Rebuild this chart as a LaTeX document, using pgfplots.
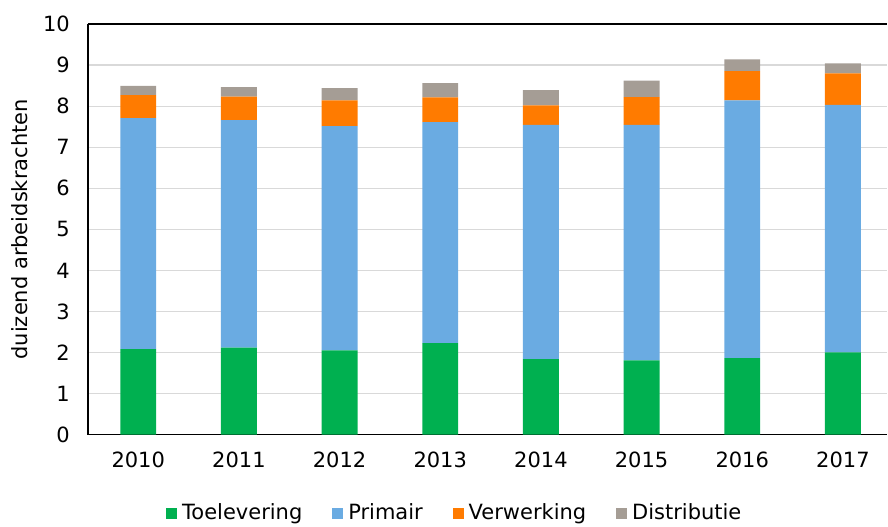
\documentclass[border=0pt]{standalone}
\usepackage{fontspec}
\setmainfont{DejaVu Sans}
\usepackage{pgfplots}
\pgfplotsset{compat=1.18}
\definecolor{cToe}{HTML}{00B050}
\definecolor{cPri}{HTML}{6AABE2}
\definecolor{cVer}{HTML}{FF7B00}
\definecolor{cDis}{HTML}{A59D95}
\definecolor{cGrid}{HTML}{D9D9D9}
\begin{document}
\fontsize{21bp}{24bp}\selectfont
\begin{tikzpicture}
\begin{axis}[
    scale only axis,
    width=800bp, height=411bp,
    ybar stacked,
    bar width=36bp,
    xmin=-0.5, xmax=7.44,
    ymin=0, ymax=10,
    ytick={0,1,...,10},
    xtick={0,...,7},
    xticklabels={2010,2011,2012,2013,2014,2015,2016,2017},
    axis x line=box, axis y line=left,
    axis line style={black, line width=1.6bp},
    x axis line style={-}, y axis line style={-},
    ymajorgrids, grid style={cGrid, line width=1.2bp},
    major tick length=0pt,
    /pgf/number format/assume math mode=true,
    yticklabel style={xshift=-11bp},
    xticklabel style={yshift=-10bp},
    ylabel={duizend arbeidskrachten},
    ylabel style={yshift=1bp},
    legend columns=4,
    legend style={draw=none, at={(0.459,-0.192)}, anchor=center,
        /tikz/every even column/.append style={column sep=28bp}},
    legend image code/.code={\fill[#1] (0bp,-5.5bp) rectangle (11bp,5.5bp); \path (14bp,0bp);},
]
\addplot[fill=cToe, draw=none] coordinates {(0,2.08) (1,2.12) (2,2.05) (3,2.23) (4,1.84) (5,1.81) (6,1.86) (7,2.00)};
\addplot[fill=cPri, draw=none] coordinates {(0,5.63) (1,5.54) (2,5.46) (3,5.38) (4,5.70) (5,5.73) (6,6.28) (7,6.03)};
\addplot[fill=cVer, draw=none] coordinates {(0,0.56) (1,0.57) (2,0.63) (3,0.60) (4,0.48) (5,0.68) (6,0.71) (7,0.77)};
\addplot[fill=cDis, draw=none] coordinates {(0,0.22) (1,0.23) (2,0.30) (3,0.35) (4,0.37) (5,0.40) (6,0.29) (7,0.24)};
\legend{Toelevering, Primair, Verwerking, Distributie}
\coordinate (ll) at (rel axis cs:0,0);
\coordinate (ur) at (rel axis cs:1,1);
\end{axis}
\useasboundingbox ([shift={(-88bp,-89bp)}]ll) rectangle ([shift={(0bp,24bp)}]ur);
\end{tikzpicture}
\end{document}
